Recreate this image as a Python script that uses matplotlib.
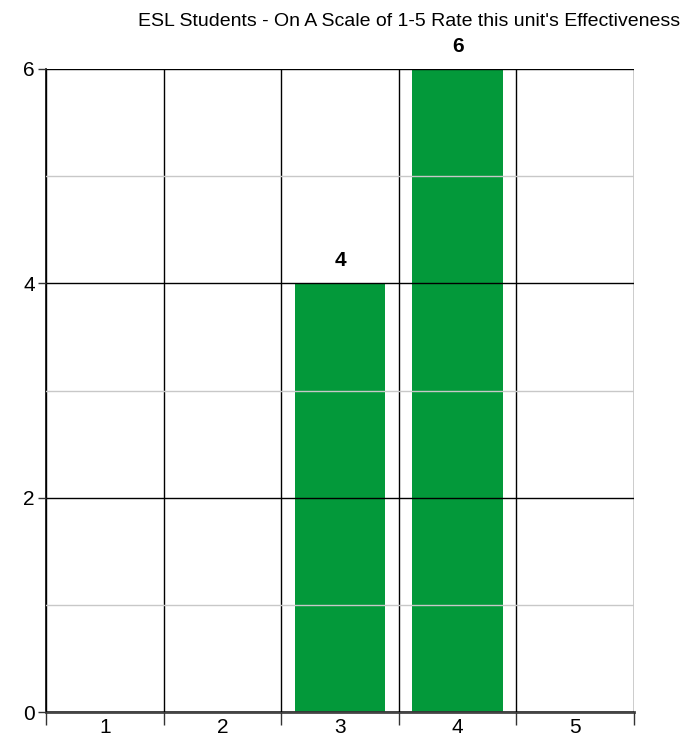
import numpy as np
import matplotlib.pyplot as plt
from matplotlib.ticker import FixedLocator, NullFormatter

# ratings 1-5 and how many students chose each
ratings = ['1', '2', '3', '4', '5']
counts = [0, 0, 4, 6, 0]
title = "ESL Students - On A Scale of 1-5 Rate this unit's Effectiveness"

plt.rcParams['font.family'] = ['Liberation Sans Narrow', 'Liberation Sans', 'DejaVu Sans']

fig = plt.figure(figsize=(6.98, 7.4), dpi=100)
ax = fig.add_axes([46/698, 1 - 712/740, (634-46)/698, (712-69)/740])

x = np.arange(1, len(ratings) + 1)
ax.bar(x, counts, width=0.77, color='#03993a', zorder=1)
for xi, c in zip(x, counts):
    if c > 0:
        ax.text(xi, c + 0.12, str(c), ha='center', va='bottom',
                fontsize=15, fontweight='bold')

ax.set_xlim(0.5, len(ratings) + 0.5)
ax.set_ylim(0, 6)

# category boundaries as grid, labels at centres
ax.xaxis.set_major_locator(FixedLocator(np.arange(0.5, len(ratings) + 1, 1)))
ax.xaxis.set_major_formatter(NullFormatter())
ax.xaxis.set_minor_locator(FixedLocator(x))
ax.set_xticklabels(ratings, minor=True)
ax.tick_params(axis='x', which='major', length=9, width=1, color='#333333')
ax.tick_params(axis='x', which='minor', length=0, labelsize=15, pad=4)

ax.yaxis.set_major_locator(FixedLocator([0, 2, 4, 6]))
ax.yaxis.set_minor_locator(FixedLocator([1, 3, 5]))
ax.tick_params(axis='y', which='major', length=6, width=1, labelsize=15, pad=2, color='#333333')
ax.tick_params(axis='y', which='minor', length=0)

ax.grid(axis='x', which='major', color='black', linewidth=1, zorder=0)
ax.grid(axis='y', which='major', color='black', linewidth=1, zorder=2)
ax.grid(axis='y', which='minor', color='#c8c8c8', linewidth=1, zorder=0)
ax.set_axisbelow(False)

for s in ['top', 'right']:
    ax.spines[s].set_visible(False)
ax.spines['left'].set_linewidth(1.2)
ax.spines['bottom'].set_linewidth(2)
ax.spines['bottom'].set_color('#444444')

fig.text(680/698, 1 - 21/740, title, ha='right', va='center', fontsize=14)

fig.savefig('out.png', dpi=100)
